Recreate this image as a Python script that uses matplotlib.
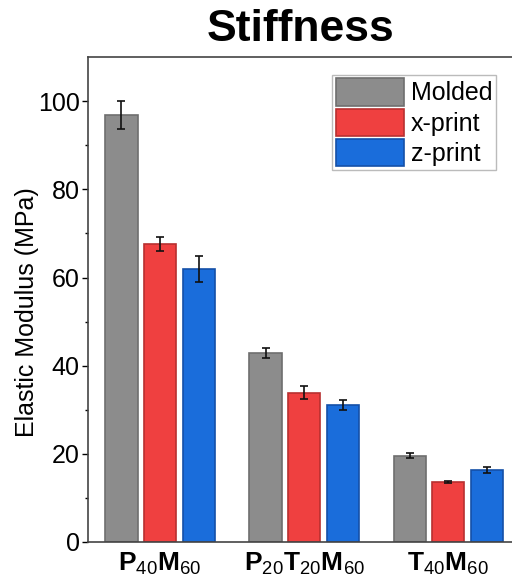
import numpy as np
import matplotlib
matplotlib.use("Agg")
import matplotlib.pyplot as plt

plt.rcParams['font.family'] = ['Liberation Sans', 'DejaVu Sans']
plt.rcParams['mathtext.fontset'] = 'custom'
plt.rcParams['mathtext.rm'] = 'Liberation Sans'
plt.rcParams['mathtext.bf'] = 'Liberation Sans:bold'

groups = [r'$\mathbf{P}_{\mathrm{40}}\mathbf{M}_{\mathrm{60}}$',
          r'$\mathbf{P}_{\mathrm{20}}\mathbf{T}_{\mathrm{20}}\mathbf{M}_{\mathrm{60}}$',
          r'$\mathbf{T}_{\mathrm{40}}\mathbf{M}_{\mathrm{60}}$']
series = ['Molded', 'x-print', 'z-print']
molded = [96.8, 42.9, 19.6]
molded_err = [3.2, 1.2, 0.6]
xprint = [67.6, 33.9, 13.6]
xprint_err = [1.5, 1.4, 0.3]
zprint = [61.9, 31.1, 16.3]
zprint_err = [3.0, 1.2, 0.6]

colors = ['#8c8c8c', '#ef4040', '#1a6ddb']
edges = ['#6e6e6e', '#b83030', '#1450a8']

fig = plt.figure(figsize=(5.12, 5.84), dpi=100)
ax = fig.add_axes([0.172, 0.072, 0.83, 0.830])

x = np.arange(len(groups))
w = 0.223
step = 0.268
for i, (vals, errs) in enumerate([(molded, molded_err), (xprint, xprint_err), (zprint, zprint_err)]):
    ax.bar(x + (i - 1) * step, vals, w, yerr=errs, color=colors[i], edgecolor=edges[i],
           linewidth=1.2, label=series[i], capsize=3,
           error_kw=dict(ecolor='#111111', elinewidth=1.2, capthick=1.2))

ax.set_xlim(-0.5, 2.45)
ax.set_ylim(0, 110)
ax.set_yticks([0, 20, 40, 60, 80, 100])
ax.set_yticks([10, 30, 50, 70, 90], minor=True)
ax.set_xticks(x)
ax.set_xticklabels(groups, fontsize=19)
ax.tick_params(axis='y', labelsize=18, direction='out', length=4, width=1, pad=2)
ax.tick_params(axis='y', which='minor', length=2.5, width=1)
ax.tick_params(axis='x', length=0, pad=6)
for s in ax.spines.values():
    s.set_color('#444444')
    s.set_linewidth(1.2)
ax.spines['right'].set_visible(False)
ax.set_ylabel('Elastic Modulus (MPa)', fontsize=18)
ax.yaxis.set_label_coords(-0.115, 0.475)
ax.set_title('Stiffness', fontsize=32, fontweight='bold', pad=12)
ax.legend(loc='upper right', fontsize=18, frameon=True, fancybox=False,
          edgecolor='#aaaaaa', handlelength=2.7, handleheight=1.3,
          handletextpad=0.3, borderpad=0.15, labelspacing=0.12,
          bbox_to_anchor=(0.99, 0.99))

fig.savefig('out.png', dpi=100)
